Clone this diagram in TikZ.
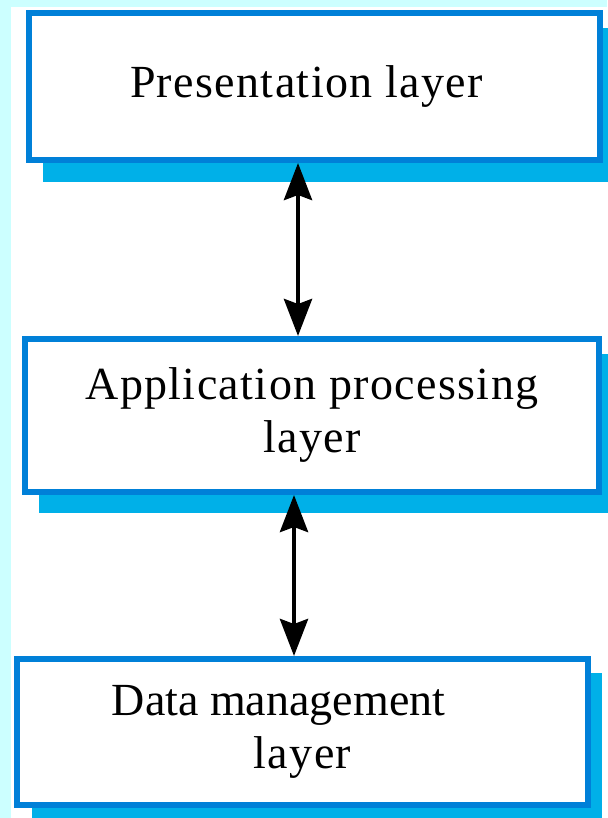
\documentclass[tikz,border=0pt]{standalone}
\usepackage{fontspec}
\setmainfont{Liberation Serif}[LetterSpace=3]
\usetikzlibrary{arrows.meta}
\definecolor{bordblue}{RGB}{0,128,216}
\definecolor{shadblue}{RGB}{0,176,232}
\definecolor{bgcyan}{RGB}{204,255,255}
\begin{document}
\begin{tikzpicture}[x=1pt,y=-1pt,
  layerbox/.style={draw=bordblue, line width=6pt, fill=white, align=center,
    font=\fontsize{46}{53}\selectfont, inner sep=0pt},
  shadowbox/.style={fill=shadblue},
  arr/.style={{Stealth[length=37pt,width=28pt,inset=5pt]}-{Stealth[length=37pt,width=28pt,inset=5pt]}, line width=4.5pt, black}]
\fill[bgcyan] (0,0) rectangle (607,818);
\fill[white] (11,7) rectangle (607,818);
\useasboundingbox (0,0) rectangle (607,818);
% shadows
\fill[shadowbox] (43,28) rectangle (620,182);
\fill[shadowbox] (39,354) rectangle (620,513);
\fill[shadowbox] (32,673) rectangle (602,830);
% boxes
\node[layerbox, minimum width=571pt, minimum height=147pt] (pres) at (314.5,86.5) {Presentation layer\hspace*{16pt}};
\node[layerbox, minimum width=574pt, minimum height=153pt] (app) at (312,415.5) {Application processing\\layer};
\node[layerbox, minimum width=571pt, minimum height=146pt] (data) at (302.5,732) {{\addfontfeatures{LetterSpace=0}Data management}\hspace*{48pt}\\layer};
% arrows
\coordinate (ax1) at (298,0);
\coordinate (ax2) at (294,0);
\draw[arr] (pres.south -| ax1) -- (app.north -| ax1);
\draw[arr] (app.south -| ax2) -- (data.north -| ax2);
\end{tikzpicture}
\end{document}
